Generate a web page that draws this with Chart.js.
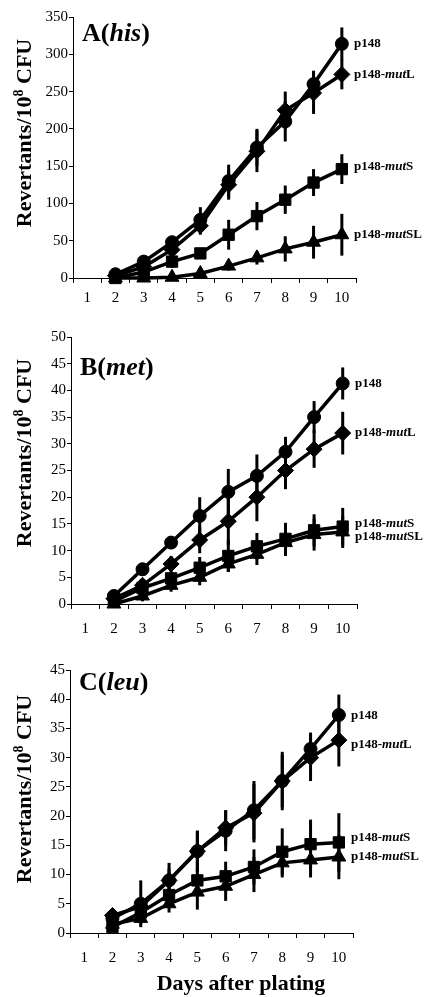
<!DOCTYPE html>
<html><head><meta charset="utf-8">
<script src="https://cdn.jsdelivr.net/npm/chart.js@4.4.0/dist/chart.umd.min.js"></script>
<style>
html,body{margin:0;padding:0;background:#fff;}
#wrap{position:relative;width:425px;height:997px;background:#fff;}
canvas{position:absolute;left:0;}
</style></head><body>
<div id="wrap">
<canvas id="cA" width="425" height="315" style="top:0px"></canvas>
<canvas id="cB" width="425" height="325" style="top:315px"></canvas>
<canvas id="cC" width="425" height="357" style="top:640px"></canvas>
</div>
<script>
// ---- data ----
const dayLabels = ['1','2','3','4','5','6','7','8','9','10'];
const days = ['2','3','4','5','6','7','8','9','10'];
const seriesNames = [['p148','',''],['p148-','mut','L'],['p148-','mut','S'],['p148-','mut','SL']];

// Panel A (his)
const hisP148  = [5, 22, 48, 78, 130, 175, 210, 260, 314];
const hisMutL  = [3, 15, 38, 70, 125, 170, 225, 248, 273];
const hisMutS  = [0, 8, 22, 33, 58, 83, 105, 128, 146];
const hisMutSL = [0, 0, 1, 6, 16, 27, 39, 48, 58];
const hisP148Err  = [3, 5, 7, 17, 22, 25, 27, 18, 22];
const hisMutLErr  = [3, 5, 8, 12, 20, 28, 25, 28, 20];
const hisMutSErr  = [3, 5, 8, 6, 20, 19, 19, 18, 20];
const hisMutSLErr = [2, 3, 3, 5, 6, 9, 17, 22, 28];
const hisTicks = [0, 50, 100, 150, 200, 250, 300, 350];

// Panel B (met)
const metP148  = [1.5, 6.5, 11.5, 16.5, 21, 24, 28.5, 35, 41.3];
const metMutL  = [1, 3.5, 7.5, 12, 15.5, 20, 25, 29, 32];
const metMutS  = [0.5, 3, 4.8, 6.8, 9, 10.8, 12.2, 13.8, 14.5];
const metMutSL = [0, 1.5, 3.5, 5, 7.5, 9.3, 11.5, 13, 13.5];
const metP148Err  = [1, 1.2, 0.8, 3.5, 4.3, 4, 2.8, 3, 3];
const metMutLErr  = [0.8, 1.2, 1.5, 2.5, 4.5, 4.5, 3.5, 3.5, 4];
const metMutSErr  = [0.5, 1, 1.2, 2, 3, 2.5, 3, 3, 3.5];
const metMutSLErr = [0.5, 1, 1.2, 1.5, 1.5, 2, 2.5, 3, 3];
const metTicks = [0, 5, 10, 15, 20, 25, 30, 35, 40, 45, 50];

// Panel C (leu)
const leuP148  = [2.5, 5, 9, 14, 17.5, 21, 26, 31.5, 37.3];
const leuMutL  = [3, 4.5, 9, 14, 18, 20.5, 26, 30, 33];
const leuMutS  = [1, 3.5, 6.5, 9, 9.7, 11.3, 13.9, 15.2, 15.5];
const leuMutSL = [1.5, 2.5, 5, 7, 8, 10, 12, 12.5, 13];
const leuP148Err  = [0.5, 4, 3, 3.5, 3.5, 5, 5, 2.8, 3.5];
const leuMutLErr  = [0.5, 1.5, 2, 3.5, 3, 5, 4.5, 4, 4.5];
const leuMutSErr  = [0.5, 1.5, 1.5, 2, 2.5, 3, 4, 4.2, 5];
const leuMutSLErr = [0.5, 1, 1.5, 3, 2.5, 3, 2.5, 3, 3.8];
const leuTicks = [0, 5, 10, 15, 20, 25, 30, 35, 40, 45];

const xTitle = 'Days after plating';
const yTitleParts = ['Revertants/10', '8', ' CFU'];

// ---- layout / style ----
const SERIF = "'Liberation Serif','Times New Roman',serif";
const markerStyles = [
  {pointStyle:'circle', radius:6.5},
  {pointStyle:'rectRot', radius:8},
  {pointStyle:'rect', radius:8},
  {pointStyle:'triangle', radius:8}
];

const panels = [
  {id:'cA', h:315, area:{top:17,bottom:278,left:73,right:356}, title:['A(','his',')'], titleBase:41,
   vals:[hisP148,hisMutL,hisMutS,hisMutSL], errs:[hisP148Err,hisMutLErr,hisMutSErr,hisMutSLErr],
   ticks:hisTicks, labelDy:[0,0,-2,0], yTitleCY:133, xPad:6, xDash:[1,1], showXTitle:false},
  {id:'cB', h:325, area:{top:22,bottom:289,left:71,right:357}, title:['B(','met',')'], titleBase:60,
   vals:[metP148,metMutL,metMutS,metMutSL], errs:[metP148Err,metMutLErr,metMutSErr,metMutSLErr],
   ticks:metTicks, labelDy:[0,0,-3,5], yTitleCY:138, xPad:11, xDash:[], showXTitle:false},
  {id:'cC', h:357, area:{top:30,bottom:293,left:70,right:353}, title:['C(','leu',')'], titleBase:50,
   vals:[leuP148,leuMutL,leuMutS,leuMutSL], errs:[leuP148Err,leuMutLErr,leuMutSErr,leuMutSLErr],
   ticks:leuTicks, labelDy:[1,5,-5,0], yTitleCY:149, xPad:11, xDash:[], showXTitle:true}
];

function drawParts(ctx, parts, x, y, size) {
  let cx = x;
  parts.forEach((p, i) => {
    if (!p) return;
    ctx.font = (i === 1 ? 'italic bold ' : 'bold ') + size + 'px ' + SERIF;
    ctx.fillText(p, cx, y);
    cx += ctx.measureText(p).width;
  });
}

const decorPlugin = {
  id: 'decor',
  afterDatasetsDraw(chart) {
    const ctx = chart.ctx;
    const ys = chart.scales.y;
    ctx.save();
    ctx.strokeStyle = '#000';
    ctx.lineWidth = 3;
    ctx.lineCap = 'butt';
    chart.data.datasets.forEach((ds, di) => {
      const meta = chart.getDatasetMeta(di);
      meta.data.forEach((pt, i) => {
        const v = ds.data[i].y, e = ds.errors[i];
        if (v == null || !e) return;
        ctx.beginPath();
        ctx.moveTo(pt.x, ys.getPixelForValue(v + e));
        ctx.lineTo(pt.x, ys.getPixelForValue(v - e));
        ctx.stroke();
      });
    });
    ctx.restore();
  },
  afterDraw(chart) {
    const ctx = chart.ctx;
    const p = chart.options.plugins.decor;
    const area = chart.chartArea;
    const ys = chart.scales.y;
    ctx.save();
    ctx.fillStyle = '#000';
    ctx.textBaseline = 'alphabetic';
    ctx.textAlign = 'left';
    drawParts(ctx, p.title, area.left + 9, p.titleBase, 26);
    ctx.textBaseline = 'middle';
    chart.data.datasets.forEach((ds, di) => {
      const last = ds.data[ds.data.length - 1].y;
      const y = ys.getPixelForValue(last) + p.labelDy[di];
      drawParts(ctx, seriesNames[di], area.right - 2, y, 13);
    });
    ctx.save();
    ctx.translate(31, p.yTitleCY);
    ctx.rotate(-Math.PI / 2);
    ctx.textBaseline = 'alphabetic';
    const f1 = 'bold 22px ' + SERIF, f2 = 'bold 14px ' + SERIF;
    ctx.font = f1; const w1 = ctx.measureText(yTitleParts[0]).width;
    ctx.font = f2; const w2 = ctx.measureText(yTitleParts[1]).width;
    ctx.font = f1; const w3 = ctx.measureText(yTitleParts[2]).width;
    let sx = -(w1 + w2 + w3) / 2;
    ctx.font = f1; ctx.fillText(yTitleParts[0], sx, 0); sx += w1;
    ctx.font = f2; ctx.fillText(yTitleParts[1], sx, -8); sx += w2;
    ctx.font = f1; ctx.fillText(yTitleParts[2], sx, 0);
    ctx.restore();
    if (p.showXTitle) {
      ctx.font = 'bold 22px ' + SERIF;
      ctx.textAlign = 'center';
      ctx.textBaseline = 'alphabetic';
      ctx.fillText(xTitle, 241, chart.height - 7);
    }
    ctx.restore();
  }
};

panels.forEach(pn => {
  const datasets = pn.vals.map((vals, si) => ({
    label: seriesNames[si].join(''),
    data: days.map((d, i) => ({x: d, y: vals[i]})),
    errors: pn.errs[si],
    borderColor: '#000',
    backgroundColor: '#000',
    borderWidth: 3.5,
    tension: 0,
    pointStyle: markerStyles[si].pointStyle,
    pointRadius: markerStyles[si].radius,
    pointBackgroundColor: '#000',
    pointBorderColor: '#000',
    pointBorderWidth: 1,
    clip: false
  }));
  const canvas = document.getElementById(pn.id);
  new Chart(canvas, {
    type: 'line',
    data: {labels: dayLabels, datasets},
    options: {
      responsive: false,
      animation: false,
      events: [],
      layout: {padding: {top: pn.area.top, right: 425 - pn.area.right, left: 0, bottom: 0}},
      plugins: {
        legend: {display: false},
        tooltip: {enabled: false},
        decor: {title: pn.title, titleBase: pn.titleBase, labelDy: pn.labelDy, yTitleCY: pn.yTitleCY, showXTitle: pn.showXTitle}
      },
      scales: {
        x: {
          type: 'category',
          offset: true,
          grid: {offset: true, drawOnChartArea: false, drawTicks: true, tickLength: 5, color: '#000', lineWidth: 1},
          border: {display: true, color: '#000', width: 1, dash: pn.xDash},
          ticks: {color: '#000', font: {family: SERIF, size: 15}, padding: pn.xPad, maxRotation: 0, autoSkip: false},
          afterFit(s) { s.height = pn.h - pn.area.bottom; }
        },
        y: {
          min: pn.ticks[0],
          max: pn.ticks[pn.ticks.length - 1],
          afterBuildTicks(s) { s.ticks = pn.ticks.map(v => ({value: v})); },
          grid: {drawOnChartArea: false, drawTicks: true, tickLength: 4, color: '#000', lineWidth: 1},
          border: {display: true, color: '#000', width: 1},
          ticks: {color: '#000', font: {family: SERIF, size: 15}, padding: 1},
          afterFit(s) { s.width = pn.area.left; }
        }
      }
    },
    plugins: [decorPlugin]
  });
});
</script>
</body></html>
